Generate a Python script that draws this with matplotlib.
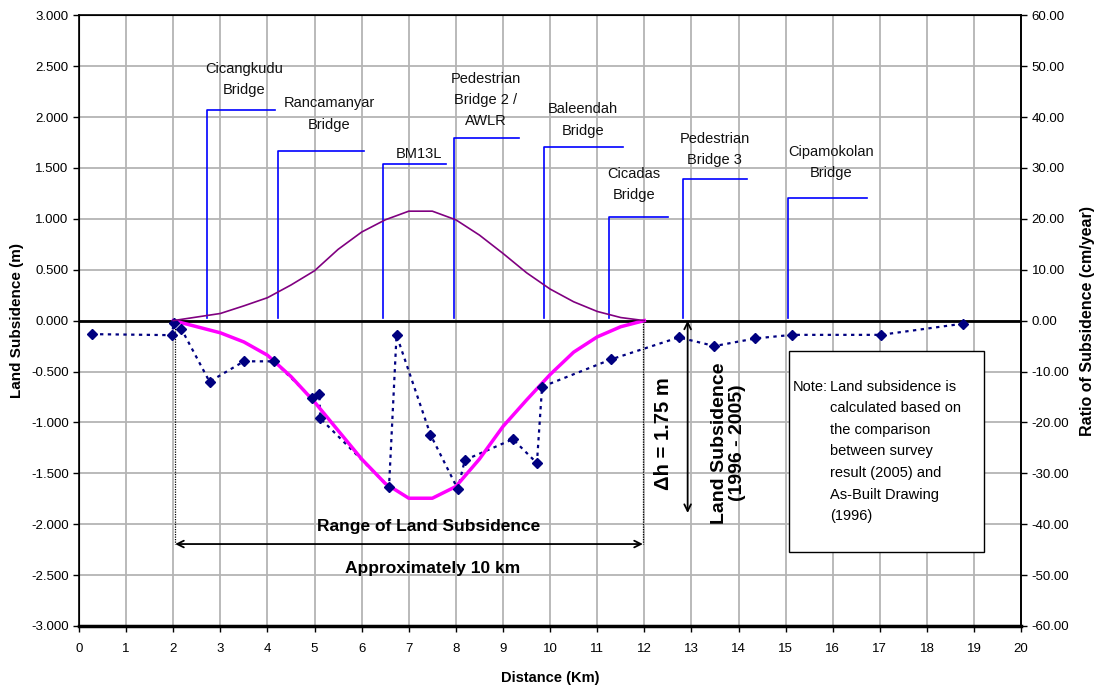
import matplotlib
matplotlib.use("Agg")
import matplotlib.pyplot as plt
from matplotlib.patches import Rectangle
from matplotlib import font_manager as fm

# ---------------- data ----------------
obs_x = [0.28, 1.97, 2.01, 2.17, 2.77, 3.50, 4.14, 4.94, 5.10, 5.12, 6.58, 6.74,
         7.46, 8.04, 8.19, 9.21, 9.72, 9.83, 11.30, 12.73, 13.49, 14.36, 15.14,
         17.02, 18.77]
obs_y = [-0.133, -0.143, -0.02, -0.08, -0.60, -0.40, -0.40, -0.76, -0.725, -0.96,
         -1.635, -0.143, -1.12, -1.655, -1.37, -1.165, -1.40, -0.65, -0.38,
         -0.165, -0.25, -0.175, -0.14, -0.14, -0.03]

trend_x = [2.0, 3.0, 3.5, 4.0, 4.5, 5.0, 5.5, 6.0, 6.5, 7.0, 7.5, 8.0, 8.5,
           9.0, 9.5, 10.0, 10.5, 11.0, 11.5, 12.0]
trend_y = [0.0, -0.12, -0.21, -0.34, -0.55, -0.80, -1.08, -1.36, -1.60, -1.745,
           -1.745, -1.63, -1.36, -1.04, -0.78, -0.53, -0.31, -0.16, -0.06, 0.0]

ratio_x = [2.0, 3.0, 3.5, 4.0, 4.5, 5.0, 5.5, 6.0, 6.5, 7.0, 7.5, 8.0, 8.5,
           9.0, 9.5, 10.0, 10.5, 11.0, 11.5, 12.0]
ratio_y = [0.0, 1.4, 2.9, 4.5, 7.0, 9.8, 14.0, 17.4, 19.8, 21.5, 21.5, 19.8,
           16.8, 13.2, 9.4, 6.2, 3.7, 1.8, 0.6, 0.0]

bridge_names = ["Cicangkudu\nBridge", "Rancamanyar\nBridge", "BM13L",
                "Pedestrian\nBridge 2 /\nAWLR", "Baleendah\nBridge",
                "Cicadas\nBridge", "Pedestrian\nBridge 3", "Cipamokolan\nBridge"]
bridge_x = [2.72, 4.23, 6.46, 7.95, 9.88, 11.25, 12.83, 15.06]
bridge_top = [2.065, 1.665, 1.54, 1.79, 1.705, 1.017, 1.39, 1.206]
bridge_end = [4.16, 6.05, 7.79, 9.33, 11.54, 12.51, 14.18, 16.72]
label_x = [3.51, 5.31, 7.22, 8.63, 10.69, 11.78, 13.49, 15.96]
label_y = [2.37, 2.03, 1.64, 2.165, 1.97, 1.34, 1.68, 1.557]

x_ticks = list(range(0, 21))
y_ticks = [-3.0, -2.5, -2.0, -1.5, -1.0, -0.5, 0.0, 0.5, 1.0, 1.5, 2.0, 2.5, 3.0]
y2_ticks = [-60, -50, -40, -30, -20, -10, 0, 10, 20, 30, 40, 50, 60]

note_lines = ["Land subsidence is", "calculated based on", "the comparison",
              "between survey", "result (2005) and", "As-Built Drawing", "(1996)"]

# ---------------- fonts ----------------
avail = {f.name for f in fm.fontManager.ttflist}
NARROW = "Liberation Sans Narrow" if "Liberation Sans Narrow" in avail else "Liberation Sans"
SANS = "Liberation Sans"
plt.rcParams['font.family'] = [NARROW, 'DejaVu Sans']

fig = plt.figure(figsize=(10.98, 6.92), dpi=100)
ax = fig.add_axes([0.072, 0.0954, 0.858, 0.8826])
ax.set_xlim(0, 20)
ax.set_ylim(-3, 3)
ax.set_xticks(x_ticks)
ax.set_yticks(y_ticks)
ax.set_yticklabels([f"{v:.3f}" for v in y_ticks])
ax.grid(True, color="#b4b4b4", lw=1.3)
ax.set_axisbelow(True)
ax.tick_params(axis='both', direction='out', length=4, width=1, labelsize=9.5, colors='black')
ax.tick_params(axis='x', pad=8)
for s in ['left', 'top', 'right']:
    ax.spines[s].set_linewidth(1.2)
ax.spines['bottom'].set_linewidth(2.5)

ax.axhline(0, color='black', lw=2, zorder=3)

ax2 = ax.twinx()
ax2.set_ylim(-60, 60)
ax2.set_yticks(y2_ticks)
ax2.set_yticklabels([f"{v:.2f}" for v in y2_ticks])
ax2.tick_params(axis='y', direction='out', length=4, width=1, labelsize=9.5)
ax2.spines['right'].set_linewidth(1.2)

# bridges
for bx, bt, be in zip(bridge_x, bridge_top, bridge_end):
    ax.plot([bx, bx, be], [0.03, bt, bt], color='#0000ff', lw=1.2, zorder=4)
for name, lx, ly in zip(bridge_names, label_x, label_y):
    ax.text(lx, ly, name, ha='center', va='center', fontsize=10.5,
            linespacing=1.65, color='#111111', zorder=5)

# ratio curve on the right axis
ax2.plot(ratio_x, ratio_y, color='#800080', lw=1.2, zorder=4)

# observed
ax.plot(obs_x, obs_y, color='#000080', lw=1.6, ls=(0, (1.5, 2.0)), zorder=5)
ax.plot(obs_x, obs_y, ls='none', marker='D', ms=5.5, color='#000080', zorder=6)

# trend
ax.plot(trend_x, trend_y, color='#ff00ff', lw=2.5, zorder=5)

# range annotation
ax.plot([2.04, 2.04], [0, -2.195], color='black', lw=0.9, ls=(0, (1, 1)), zorder=4)
ax.plot([11.97, 11.97], [0, -2.195], color='black', lw=0.9, ls=(0, (1, 1)), zorder=4)
ax.annotate("", xy=(2.04, -2.195), xytext=(11.97, -2.195),
            arrowprops=dict(arrowstyle='<->', color='black', lw=1.3,
                            shrinkA=0, shrinkB=0, mutation_scale=12), zorder=6)
ax.text(7.42, -2.025, "Range of Land Subsidence", ha='center', va='center',
        fontsize=12.5, fontweight='bold', zorder=6)
ax.text(7.51, -2.435, "Approximately 10 km", ha='center', va='center',
        fontsize=12.5, fontweight='bold', zorder=6)

# delta h arrow
ax.annotate("", xy=(12.92, 0.0), xytext=(12.92, -1.89),
            arrowprops=dict(arrowstyle='<->', color='black', lw=1.3,
                            shrinkA=0, shrinkB=0, mutation_scale=12), zorder=6)
ax.text(12.41, -1.115, "\u0394h = 1.75 m", rotation=90, ha='center', va='center',
        fontsize=14.5, fontweight='bold', family=[SANS, 'DejaVu Sans'], zorder=6)
ax.text(13.78, -1.2, "Land Subsidence\n(1996 - 2005)", rotation=90, ha='center',
        va='center', fontsize=14, fontweight='bold', linespacing=1.1,
        family=[SANS, 'DejaVu Sans'], zorder=6)

# note box
ax.add_patch(Rectangle((15.07, -2.27), 4.15, 1.97, facecolor='white',
                       edgecolor='black', lw=1.0, zorder=7))
ax.text(15.15, (320.5 - 386.7) / 101.8, "Note:", ha='left', va='center',
        fontsize=10.5, zorder=8)
for i, line in enumerate(note_lines):
    py = 386.7 + i * 21.55
    ax.text(15.95, (320.5 - py) / 101.8, line, ha='left', va='center',
            fontsize=10.5, zorder=8)

ax.set_ylabel("Land Subsidence (m)", fontsize=11, fontweight='bold',
              family=[SANS, 'DejaVu Sans'])
ax.yaxis.set_label_coords(-0.058, 0.5)
ax2.set_ylabel("Ratio of Subsidence (cm/year)", fontsize=11.5, fontweight='bold',
               family=[SANS, 'DejaVu Sans'], labelpad=8)
ax.set_xlabel("Distance (Km)", fontsize=10.5, fontweight='bold', labelpad=12)

fig.savefig("out.png", dpi=100)
